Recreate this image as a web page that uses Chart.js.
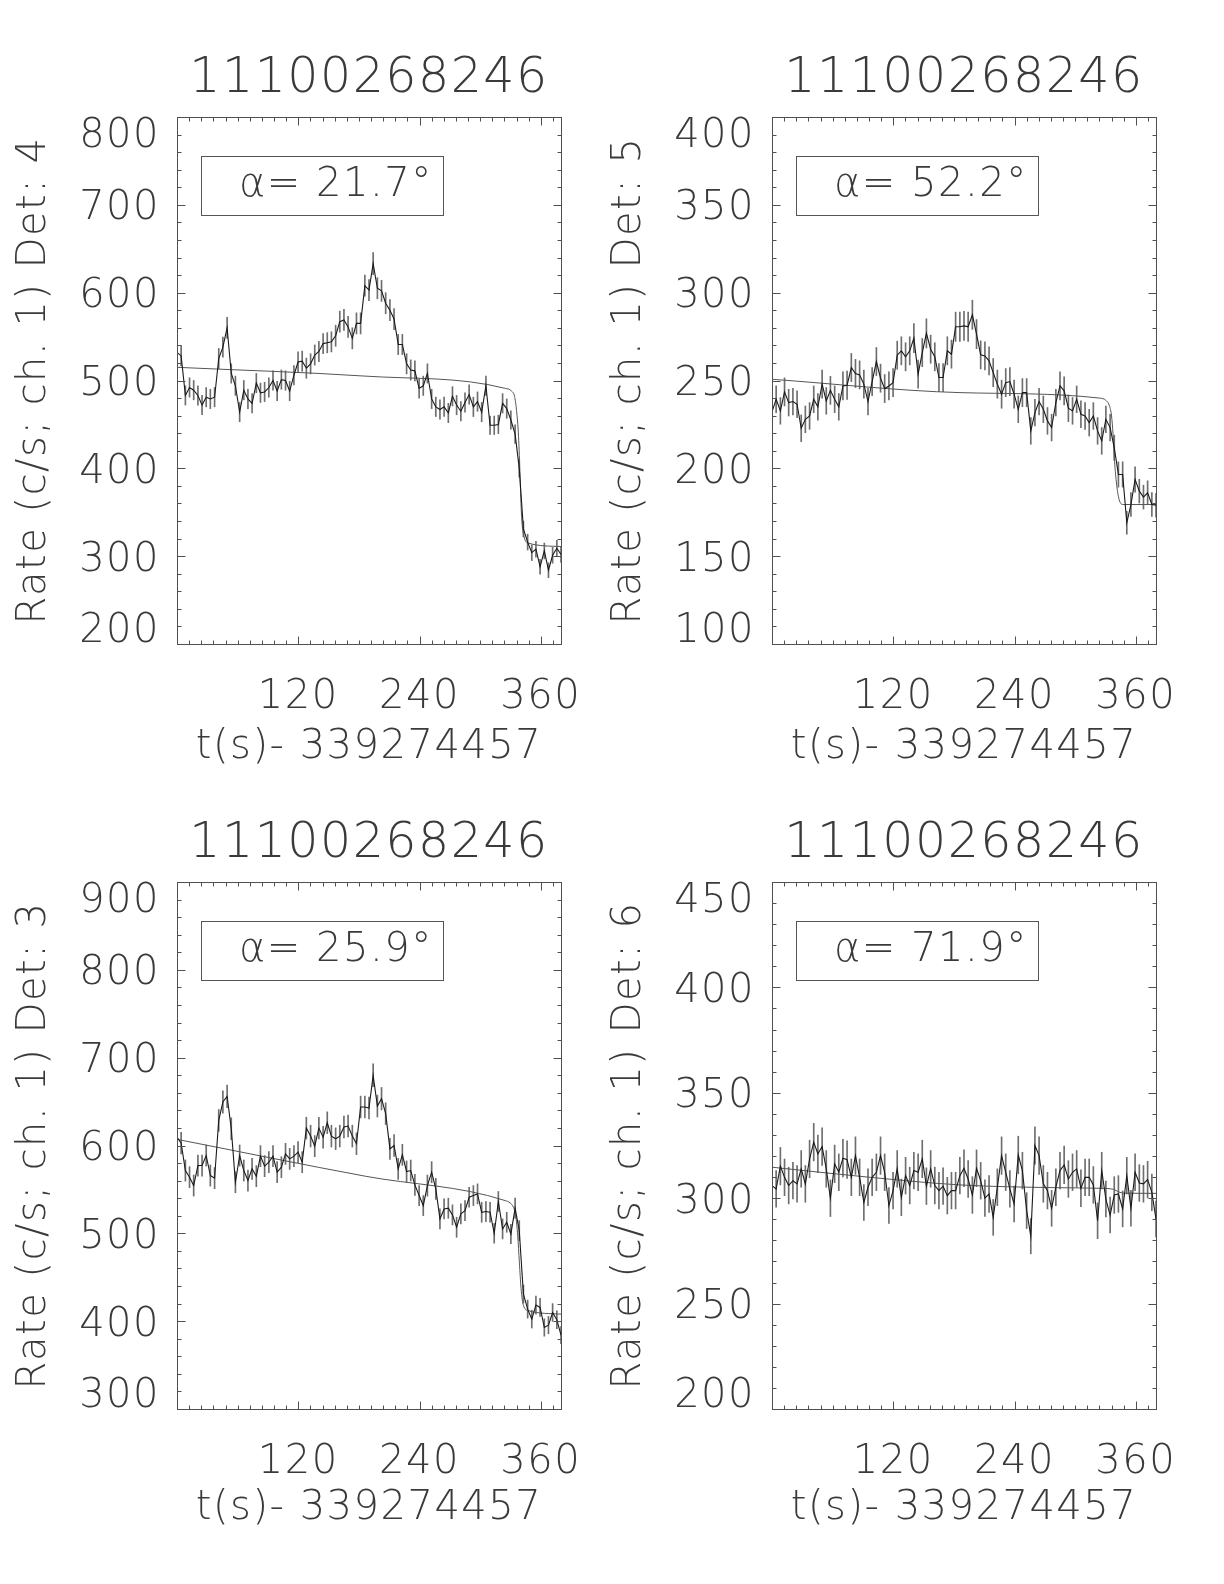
<!DOCTYPE html>
<html><head><meta charset="utf-8">
<script src="https://cdn.jsdelivr.net/npm/chart.js@4.4.1/dist/chart.umd.min.js"></script>
<style>
html,body{margin:0;padding:0;background:#fff;width:1224px;height:1584px;overflow:hidden;position:relative}
canvas{position:absolute}
</style></head><body>
<canvas id="c1" width="612" height="790" style="left:0;top:0"></canvas>
<canvas id="c2" width="612" height="790" style="left:595px;top:0"></canvas>
<canvas id="c3" width="612" height="790" style="left:0;top:765px"></canvas>
<canvas id="c4" width="612" height="790" style="left:595px;top:765px"></canvas>
<script>
// ---------------- data ----------------
const OBS_ID = '11100268246';
const X_TITLE = 't(s)- 339274457';
const X_TICKS = [120, 240, 360];
const DETECTORS = [4, 5, 3, 6];
const ALPHAS = ['21.7', '52.2', '25.9', '71.9'];
const Y_RANGES = [[200, 800], [100, 400], [300, 900], [200, 450]];

const TIMES = [0,4.1,8.3,12.4,16.5,20.7,24.8,28.9,33.0,37.2,
  41.3,45.4,49.6,53.7,57.8,62.0,66.1,70.2,74.3,78.5,
  82.6,86.7,90.9,95.0,99.1,103.3,107.4,111.5,115.7,119.8,
  123.9,128.0,132.2,136.3,140.4,144.6,148.7,152.8,157.0,161.1,
  165.2,169.3,173.5,177.6,181.7,185.9,190.0,194.1,198.3,202.4,
  206.5,210.7,214.8,218.9,223.0,227.2,231.3,235.4,239.6,243.7,
  247.8,252.0,256.1,260.2,264.3,268.5,272.6,276.7,280.9,285.0,
  289.1,293.3,297.4,301.5,305.7,309.8,313.9,318.0,322.2,326.3,
  330.4,334.6,338.7,342.8,347.0,351.1,355.2,359.3,363.5,367.6,
  371.7,375.9,380.0];

const RATE_DET4 = [532,528,483,492,489,483,472,481,479,481,
  525,538,560,508,494,464,489,479,474,497,
  486,487,492,500,488,501,500,488,506,521,
  522,514,519,529,533,542,543,544,551,567,
  569,561,548,565,565,608,603,633,605,602,
  588,580,570,541,541,519,512,511,491,494,
  508,479,470,467,470,463,482,472,465,475,
  484,470,476,464,494,449,449,450,474,468,
  455,439,400,331,316,304,308,288,306,284,
  301,309,302];
const ERR_DET4 = [11.5,11.5,11,11,11,11,11,11,11,11,
  11.5,11.5,12,11,11,11,11,11,11,11,
  11,11,11,11,11,11,11,11,11,11.5,
  11.5,11.5,11.5,11.5,11.5,11.5,11.5,11.5,12,12,
  12,12,12,12,12,12,12,12.5,12,12,
  12,12,12,11.5,11.5,11.5,11.5,11.5,11,11,
  11,11,11,11,11,11,11,11,11,11,
  11,11,11,11,11,10.5,10.5,10.5,11,11,
  10.5,10.5,10,9,9,9,9,8.5,9,8.5,
  9,9,9];

const RATE_DET5 = [232.1,239.3,232.7,243.5,237.4,238,236.5,222.8,227.9,229.8,
  239.3,235,247.9,238.4,244.4,239.3,235,246.9,247.3,257.4,
  254,253.2,247.9,238,249.4,260.8,251.3,245.4,246.9,248.8,
  264.4,266.9,263.5,266.9,274.1,253.6,265.9,276.8,267.8,263.5,
  251.7,251.7,266.9,265,280.6,280.6,281.1,280.6,287.4,276.4,
  264.6,264,261.2,254.5,247.9,242.2,248.8,249.4,242.2,233.6,
  243.1,243.1,221.3,231.7,238,233.6,227,223.2,237.4,246.9,
  244.1,234.2,232.7,239.3,230.8,229.8,226,229.8,221.3,215.6,
  227.9,223.2,211.7,196.5,196.5,169,179.4,193.7,187,183.6,
  186.1,179.4,179];
const ERR_DET5 = [7.6,7.6,7.6,8,7.6,7.6,7.6,7.6,7.6,7.6,
  7.6,7.6,8,7.6,8,7.6,7.6,8,8,8,
  8,8,8,7.6,8,8,8,8,8,8,
  8,8,8,8,8.3,8,8,8.3,8,8,
  8,8,8,8,8.3,8.3,8.3,8.3,8.3,8.3,
  8,8,8,8,8,8,8,8,8,7.6,
  8,8,7.6,7.6,7.6,7.6,7.6,7.6,7.6,8,
  8,7.6,7.6,7.6,7.6,7.6,7.6,7.6,7.6,7.6,
  7.6,7.6,7.2,7.2,7.2,6.5,6.8,7.2,6.8,6.8,
  6.8,6.8,6.8];

const RATE_DET3 = [609.5,602.7,571.5,563.9,554.4,577.2,577.2,588.6,565.8,562.8,
  628.6,649.5,655.9,619.1,558.2,588.6,571.5,560.1,573.4,565.1,
  587.9,576.5,581,587.9,569.6,575.3,590.5,584.8,587.9,592.4,
  581,619.8,610.7,599.3,619.8,609.5,625.9,610.7,607.7,610.7,
  621,622.1,610.7,602,643.8,643.8,642.6,679.9,644.9,653.3,
  636.2,596.2,600,573.4,589.4,570.4,571.5,555.2,543,531.6,
  554.4,569.6,550.6,516.4,527.8,528.6,521,506.9,522.1,525.9,
  541.1,543,544.9,524,524.8,524,500,536.2,505,512.6,
  499.3,528.6,503.1,430.9,413.7,402.3,418.3,415.6,392.8,395.5,
  409.9,401.6,384.1];
const ERR_DET3 = [12.4,12.4,12,12,12,12,12,12,12,12,
  12.4,12.8,12.8,12.4,12,12,12,12,12,12,
  12,12,12,12,12,12,12,12,12,12,
  12,12.4,12.4,12,12.4,12.4,12.4,12.4,12.4,12.4,
  12.4,12.4,12.4,12.4,12.4,12.4,12.4,13,12.4,12.8,
  12.4,12,12.4,12,12,12,12,12,11.4,11.4,
  12,12,12,11.4,11.4,11.4,11.4,11.4,11.4,11.4,
  11.4,11.4,11.4,11.4,11.4,11.4,11.2,11.4,11.4,11.4,
  11,11.4,11.4,10.3,10.3,10.1,10.3,10.3,9.9,9.9,
  10.1,10.1,9.8];

const RATE_DET6 = [306,304.4,315.2,309.9,306,308.3,306.8,313.9,306.8,318.6,
  326.6,321,324.5,313.9,300,316.3,312.3,319,318.3,309.9,
  320.2,309.9,298,305.2,309.9,312.3,320.2,312.3,296.5,303.6,
  313.9,300.4,310.7,306,313.1,312.3,318.6,305.7,313.9,306,
  303.6,305.7,301.2,303.6,303.6,310.7,314.2,309.1,301.5,314.2,
  308.3,300,302,290.9,305.2,320.2,312.3,304.4,297.3,320.5,
  313.1,294.1,282,325,320.2,306.8,303.6,295.2,305.2,313.1,
  315.8,309.1,312.3,313.9,304.7,309.9,309.9,306.3,289.3,313.1,
  299.6,292,301.5,302,294.9,310.7,295.2,312.3,307.2,306.8,
  308.8,302.8,290.1];
const ERR_DET6 = [8.7,8.7,8.9,8.7,8.7,8.7,8.7,8.7,8.7,8.9,
  8.9,8.9,8.9,8.7,8.7,8.9,8.7,8.9,8.9,8.7,
  8.9,8.7,8.5,8.7,8.7,8.7,8.9,8.7,8.5,8.7,
  8.7,8.7,8.7,8.7,8.7,8.7,8.9,8.7,8.7,8.7,
  8.7,8.7,8.7,8.7,8.7,8.7,8.7,8.7,8.7,8.7,
  8.7,8.7,8.7,8.5,8.7,8.9,8.7,8.7,8.5,8.9,
  8.7,8.5,8.4,8.9,8.9,8.7,8.7,8.5,8.7,8.7,
  8.9,8.7,8.7,8.7,8.7,8.7,8.7,8.7,8.5,8.7,
  8.5,8.5,8.7,8.7,8.5,8.7,8.5,8.7,8.7,8.7,
  8.7,8.7,8.5];

const MODEL_T_DET4 = [0,186,325,331,334,336,338,339.5,341,343.5,347.5,380];
const MODEL_V_DET4 = [515,505,491,488,482,466,436,390,345,322,315,311];
const MODEL_T_DET5 = [0,186,324,331,334,336,337.5,339,341,343.5,347.5,380];
const MODEL_V_DET5 = [250.7,243.1,240,238.4,235.5,229.8,219.4,204,191,182.3,179.4,179.4];
const MODEL_T_DET3 = [0,186.5,324.7,329.6,332.9,335.2,337.2,338.8,340.5,342.8,347.7,380];
const MODEL_V_DET3 = [607,565,537.3,534.6,529.7,520,497,467,437,418,412,408];
const MODEL_T_DET6 = [0,95,186,280,325,338,343,348,380];
const MODEL_V_DET6 = [314.7,310,306.3,305,304.7,304.2,303,302.4,302.3];

const PANELS = [
  {id:'c1', rate:RATE_DET4, err:ERR_DET4, mt:MODEL_T_DET4, mv:MODEL_V_DET4, det:DETECTORS[0], alpha:ALPHAS[0], yr:Y_RANGES[0], step:100, minor:20, xtPad:18},
  {id:'c2', rate:RATE_DET5, err:ERR_DET5, mt:MODEL_T_DET5, mv:MODEL_V_DET5, det:DETECTORS[1], alpha:ALPHAS[1], yr:Y_RANGES[1], step:50, minor:10, xtPad:18},
  {id:'c3', rate:RATE_DET3, err:ERR_DET3, mt:MODEL_T_DET3, mv:MODEL_V_DET3, det:DETECTORS[2], alpha:ALPHAS[2], yr:Y_RANGES[2], step:100, minor:20, xtPad:22},
  {id:'c4', rate:RATE_DET6, err:ERR_DET6, mt:MODEL_T_DET6, mv:MODEL_V_DET6, det:DETECTORS[3], alpha:ALPHAS[3], yr:Y_RANGES[3], step:50, minor:10, xtPad:22}
];

// ---------------- style ----------------
const FAMILY = "'DejaVu Sans', 'Liberation Sans', sans-serif";
const WEIGHT = '200';
const TEXT = '#3a3a3a';

const spacing = {
  id: 'spacing',
  beforeDraw(chart) { chart.ctx.letterSpacing = '1.5px'; }
};

const idlFrame = {
  id: 'idlFrame',
  afterDatasetsDraw(chart, args, opts) {
    const {ctx, chartArea: a, scales: {x, y}} = chart;
    ctx.save();
    ctx.strokeStyle = '#505050';
    ctx.lineWidth = 1;
    const L = Math.round(a.left) + 0.5, T = Math.round(a.top) + 0.5;
    const R = Math.round(a.right) + 0.5, B = Math.round(a.bottom) + 0.5;
    ctx.strokeRect(L, T, R - L, B - T);
    ctx.beginPath();
    for (let k = 0; ; k++) {
      const t = x.min + k * opts.xMinor;
      if (t > x.max + 1e-6) break;
      const px = Math.round(x.getPixelForValue(t)) + 0.5;
      const len = (k % 10 === 0) ? 8 : 4;
      ctx.moveTo(px, B); ctx.lineTo(px, B - len);
      ctx.moveTo(px, T); ctx.lineTo(px, T + len);
    }
    const per = Math.round(opts.yMajor / opts.yMinor);
    for (let k = 0; ; k++) {
      const v = y.min + k * opts.yMinor;
      if (v > y.max + 1e-6) break;
      const py = Math.round(y.getPixelForValue(v)) + 0.5;
      const len = (k % per === 0) ? 8 : 4;
      ctx.moveTo(L, py); ctx.lineTo(L + len, py);
      ctx.moveTo(R, py); ctx.lineTo(R - len, py);
    }
    ctx.stroke();
    // alpha box
    ctx.strokeStyle = '#555';
    const bx = Math.round(a.left) + 24.5, by = Math.round(a.top) + 39.5;
    ctx.strokeRect(bx, by, 242, 59);
    ctx.fillStyle = TEXT;
    ctx.font = WEIGHT + ' 40px ' + FAMILY;
    ctx.textAlign = 'left';
    ctx.textBaseline = 'alphabetic';
    ctx.fillText('\u03b1= ' + opts.alpha + '\u00b0', a.left + 62, a.top + 79);
    ctx.restore();
  }
};

PANELS.forEach(p => {
  const errBars = TIMES.map((t, i) => ({x: t, y: [p.rate[i] - p.err[i], p.rate[i] + p.err[i]]}));
  const line = TIMES.map((t, i) => ({x: t, y: p.rate[i]}));
  const model = p.mt.map((t, i) => ({x: t, y: p.mv[i]}));
  new Chart(document.getElementById(p.id), {
    type: 'line',
    data: {
      datasets: [
        {type: 'bar', data: errBars, barThickness: 1, backgroundColor: '#6e6e6e', borderWidth: 0, order: 3, grouped: false},
        {type: 'line', data: model, borderColor: '#555', borderWidth: 1, pointRadius: 0, cubicInterpolationMode: 'monotone', order: 2},
        {type: 'line', data: line, borderColor: '#1a1a1a', borderWidth: 1.1, pointRadius: 0, tension: 0, order: 1}
      ]
    },
    options: {
      responsive: false,
      devicePixelRatio: 1,
      animation: false,
      events: [],
      layout: {padding: {left: 0, right: 51, top: 49, bottom: 0}},
      plugins: {
        legend: {display: false},
        tooltip: {enabled: false},
        title: {
          display: true, text: OBS_ID, fullSize: false, color: TEXT,
          font: {family: FAMILY, size: 49, weight: WEIGHT, lineHeight: 1.2},
          padding: {top: 1, bottom: 8.2}
        },
        idlFrame: {alpha: p.alpha, xMinor: 12, yMinor: p.minor, yMajor: p.step}
      },
      scales: {
        x: {
          type: 'linear', min: 0, max: 380, offset: false,
          grid: {display: false, drawTicks: false, offset: false},
          border: {display: false},
          afterBuildTicks: s => { s.ticks = X_TICKS.map(v => ({value: v})); },
          afterFit: s => { s.height = 146; },
          ticks: {color: TEXT, padding: 30, maxRotation: 0, autoSkip: false,
            font: {family: FAMILY, size: 40, weight: WEIGHT, lineHeight: 1.2}},
          title: {display: true, text: X_TITLE, color: TEXT,
            font: {family: FAMILY, size: 40, weight: WEIGHT, lineHeight: 1.2},
            padding: {top: 0, bottom: p.xtPad}}
        },
        y: {
          type: 'linear', min: p.yr[0], max: p.yr[1],
          grid: {display: false, drawTicks: false},
          border: {display: false},
          afterFit: s => { s.width = 177; },
          ticks: {
            stepSize: p.step, color: TEXT, padding: 17, autoSkip: false, labelOffset: 4,
            font: {family: FAMILY, size: 40, weight: WEIGHT, lineHeight: 0.8},
            callback: (value, index, ticks) => {
              const s = String(value);
              if (index === ticks.length - 1) return ['', s];
              if (index === 0) return [s, ''];
              return s;
            }
          },
          title: {display: true, text: 'Rate (c/s; ch. 1) Det: ' + p.det, color: TEXT,
            font: {family: FAMILY, size: 40, weight: WEIGHT, lineHeight: 1.2},
            padding: {top: 11, bottom: 0}}
        }
      }
    },
    plugins: [spacing, idlFrame]
  });
});
</script>
</body></html>
